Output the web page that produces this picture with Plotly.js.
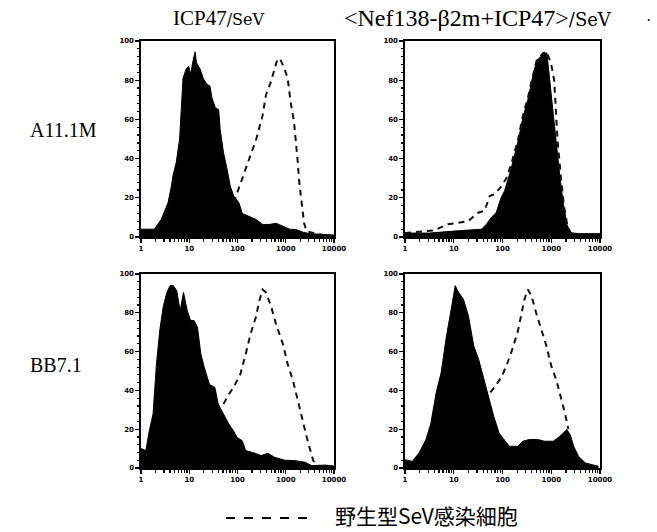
<!DOCTYPE html>
<html>
<head>
<meta charset="utf-8">
<script src="https://cdn.plot.ly/plotly-3.0.1.min.js"></script>
<style>html,body{margin:0;padding:0;background:#fff;}#plot{width:657px;height:532px;}</style>
</head>
<body>
<div id="plot"></div>
<script>
// Column / row labels
const columnTitles = ["ICP47", "<Nef138-β2m+ICP47>"];
const columnSuffix = "/SeV";
const rowTitles = ["A11.1M", "BB7.1"];
const legendLabel = "野生型SeV感染細胞";
const xTickVals = [1, 10, 100, 1000, 10000];
const xTickText = ["1", "10", "100", "1000", "10000"];
const yTickVals = [0, 20, 40, 60, 80, 100];

// Top-left: A11.1M, ICP47/SeV
const xA1_fill = [1, 1.58, 1.9, 2.63, 3.63, 4.27, 4.57, 5.37, 6.31, 7.41, 8.71, 9.77, 10.7, 12.0, 13.2, 14.1, 16.6, 19.5, 22.9, 26.9, 29.5, 34.7, 40.7, 43.7, 51.3, 60.3, 70.8, 83.2, 107, 126, 174, 240, 331, 457, 631, 871, 1202, 1660, 2291, 3162, 6026, 10000];
const yA1_fill = [4, 4, 4, 9, 17.5, 26, 31, 38, 50, 81, 86, 87, 83, 90, 94.5, 89, 86, 81, 78, 77, 71, 66, 65, 55, 43, 35, 26, 21, 17.5, 12, 10.7, 9, 6.4, 6.4, 7, 5.5, 4, 3.8, 2.4, 1.7, 1.2, 1];
const xA1_wt = [83.2, 126, 174, 245, 331, 389, 490, 575, 676, 794, 933, 1096, 1259, 1479, 1622, 1778, 1905, 2138, 2399, 2692, 3715, 6026];
const yA1_wt = [17.5, 30, 40, 50, 62, 72.5, 79, 84.5, 91, 90, 86, 81, 69, 59, 50, 38, 28, 17.5, 7, 3, 2, 1];

// Top-right: A11.1M, <Nef138-β2m+ICP47>/SeV
const xA2_fill = [1, 3.16, 10, 37.2, 46.8, 58.9, 74.1, 93.3, 110, 151, 209, 263, 339, 398, 501, 589, 692, 813, 933, 1096, 1288, 1514, 1778, 2089, 2455, 3715, 10000];
const yA2_fill = [2, 2, 3, 4, 6.5, 10, 12.4, 20, 23.5, 35, 49, 61, 71, 79.6, 90, 91.5, 93.4, 94, 79.6, 66, 49, 30, 16.7, 6.5, 2.2, 1.7, 1.7];
const xA2_wt = [1, 2.88, 3.98, 7.59, 12.0, 19.5, 31.6, 42.7, 55.0, 69.2, 95.5, 120, 151, 209, 263, 339, 398, 501, 589, 692, 813, 933, 1000, 1148, 1202, 1349, 1585, 1820, 2138, 2512];
const yA2_wt = [2, 3, 3.4, 6.5, 7.3, 8, 12.4, 13.3, 21, 21.8, 26, 30, 37, 50, 62, 72, 80, 90, 92, 94, 94.5, 90, 88, 80, 69, 49, 30, 16, 6, 2];

// Bottom-left: BB7.1, ICP47/SeV
const xB1_fill = [1, 1.26, 1.48, 1.78, 2.09, 2.45, 2.88, 3.39, 3.98, 4.68, 5.50, 6.46, 7.59, 9.12, 10.7, 12.6, 14.8, 17.4, 20.4, 26.3, 33.9, 39.8, 51.3, 66.1, 83.2, 97.7, 126, 148, 224, 309, 427, 589, 955, 1549, 2512, 3467, 6607, 10000];
const yB1_fill = [10, 9, 19, 28, 53.6, 71, 83, 90, 94, 94, 91.4, 81, 90.5, 81, 76, 76, 72.5, 58.8, 52, 43, 41.6, 33, 27.8, 22.7, 19, 15.8, 14, 9, 7.7, 6.4, 7.6, 5.5, 4, 3.8, 3, 1.2, 1.5, 1];
const xB1_wt = [51.3, 66.1, 83.2, 115, 148, 186, 240, 282, 331, 389, 501, 631, 871, 1096, 1413, 1778, 2291, 2951, 3715, 4786];
const yB1_wt = [33, 38, 41.6, 48.5, 58.8, 69, 77.7, 86, 92, 90.5, 83, 74, 64, 53.6, 45, 35, 22.7, 12.4, 3.8, 1.2];

// Bottom-right: BB7.1, <Nef138-β2m+ICP47>/SeV
const xB2_fill = [1, 1.41, 1.95, 2.69, 3.39, 4.37, 5.50, 7.08, 9.12, 10.7, 12.6, 15.8, 20.0, 25.7, 32.4, 41.7, 52.5, 66.1, 85.1, 107, 138, 204, 263, 355, 525, 724, 1096, 1514, 2089, 2455, 2884, 3631, 5012, 6918, 9333];
const yB2_fill = [4.3, 3.4, 7.8, 14.7, 23, 39, 49, 68, 83.6, 94, 90.5, 87, 78.4, 63, 56, 45.7, 35, 26.7, 18, 14.7, 11.2, 11.2, 13.8, 14.7, 14.7, 13.8, 13.8, 16.4, 19.8, 17.2, 11.2, 6, 2.6, 1.7, 0.9];
const xB2_wt = [56.2, 70.8, 97.7, 126, 158, 204, 240, 282, 331, 389, 490, 631, 794, 1000, 1259, 1479, 1905, 2239];
const yB2_wt = [39, 42, 47.4, 54, 61, 70, 78.4, 87, 92, 89, 80, 71.5, 63, 52.6, 45.7, 39, 28.4, 20];

const panels = [
  {xf: xA1_fill, yf: yA1_fill, xw: xA1_wt, yw: yA1_wt, ax: ""},
  {xf: xA2_fill, yf: yA2_fill, xw: xA2_wt, yw: yA2_wt, ax: "2"},
  {xf: xB1_fill, yf: yB1_fill, xw: xB1_wt, yw: yB1_wt, ax: "3"},
  {xf: xB2_fill, yf: yB2_fill, xw: xB2_wt, yw: yB2_wt, ax: "4"}
];

const dashStyle = {color: "#111", width: 2, dash: "6px,5px"};
const traces = [];
panels.forEach(p => {
  traces.push({x: p.xf, y: p.yf, type: "scatter", mode: "lines", fill: "tozeroy",
    fillcolor: "#000", line: {color: "#000", width: 1}, xaxis: "x" + p.ax, yaxis: "y" + p.ax, showlegend: false, hoverinfo: "skip"});
  traces.push({x: p.xw, y: p.yw, type: "scatter", mode: "lines",
    line: dashStyle, xaxis: "x" + p.ax, yaxis: "y" + p.ax, showlegend: false, hoverinfo: "skip"});
});

const W = 657, H = 532;
const xDomL = [141 / W, 334 / W], xDomR = [405 / W, 600 / W];
const yDomT = [1 - 237 / H, 1 - 41 / H], yDomB = [1 - 468 / H, 1 - 274 / H];

const minorX = [];
[1, 10, 100, 1000].forEach(d => { for (let k = 2; k <= 9; k++) minorX.push(k * d); });

const tickFont = {family: "DejaVu Sans", size: 7, color: "#000", weight: "bold"};
function xAxis(dom, anchor) {
  return {domain: dom, anchor: anchor, type: "log", range: [0, 4], tickmode: "array",
    tickvals: xTickVals, ticktext: xTickText, ticks: "outside", ticklen: 4, tickwidth: 1.3,
    tickcolor: "#000", showline: true, linecolor: "#000", linewidth: 1.6, mirror: true,
    showgrid: false, zeroline: false, tickfont: tickFont, fixedrange: true,
    minor: {tickmode: "array", tickvals: minorX, ticks: "outside", ticklen: 3, tickcolor: "#000", tickwidth: 1.2, showgrid: false}};
}
function yAxis(dom, anchor) {
  return {domain: dom, anchor: anchor, range: [0, 100], tickmode: "array", tickvals: yTickVals,
    ticks: "outside", ticklen: 4, tickwidth: 1.3, tickcolor: "#000", showline: true,
    linecolor: "#000", linewidth: 1.6, mirror: true, showgrid: false, zeroline: false,
    tickfont: tickFont, fixedrange: true,
    minor: {dtick: 4, ticks: "outside", ticklen: 2.5, tickcolor: "#000", tickwidth: 1.2, showgrid: false}};
}

const esc = s => s.replace(/</g, "&lt;").replace(/>/g, "&gt;");
const suffixHtml = sz => "<span style='font-family:DejaVu Serif, serif;font-size:" + sz + "px'>" + columnSuffix + "</span>";
const serif = "Liberation Serif, Times New Roman, serif";
const layout = {
  width: W, height: H, margin: {l: 0, r: 0, t: 0, b: 0},
  paper_bgcolor: "#fff", plot_bgcolor: "#fff", showlegend: false,
  xaxis: xAxis(xDomL, "y"), yaxis: yAxis(yDomT, "x"),
  xaxis2: xAxis(xDomR, "y2"), yaxis2: yAxis(yDomT, "x2"),
  xaxis3: xAxis(xDomL, "y3"), yaxis3: yAxis(yDomB, "x3"),
  xaxis4: xAxis(xDomR, "y4"), yaxis4: yAxis(yDomB, "x4"),
  annotations: [
    {text: esc(columnTitles[0]) + suffixHtml(16), x: 171 / W, y: 1 - 18 / H, xref: "paper", yref: "paper", showarrow: false, xanchor: "left", yanchor: "middle", font: {family: serif, size: 21, color: "#000"}},
    {text: esc(columnTitles[1]) + suffixHtml(18), x: 342 / W, y: 1 - 18 / H, xref: "paper", yref: "paper", showarrow: false, xanchor: "left", yanchor: "middle", font: {family: serif, size: 24, color: "#000"}},
    {text: "·", x: 648 / W, y: 1 - 20 / H, xref: "paper", yref: "paper", showarrow: false, xanchor: "center", yanchor: "middle", font: {family: serif, size: 16, color: "#000"}},
    {text: rowTitles[0], x: 28 / W, y: 1 - 130 / H, xref: "paper", yref: "paper", showarrow: false, xanchor: "left", yanchor: "middle", font: {family: serif, size: 20, color: "#000"}},
    {text: rowTitles[1], x: 28 / W, y: 1 - 365 / H, xref: "paper", yref: "paper", showarrow: false, xanchor: "left", yanchor: "middle", font: {family: serif, size: 20, color: "#000"}},
    {text: legendLabel, x: 333 / W, y: 1 - 515 / H, xref: "paper", yref: "paper", showarrow: false, xanchor: "left", yanchor: "middle", font: {family: "Noto Sans CJK JP, sans-serif", size: 21, color: "#000"}}
  ],
  shapes: [
    {type: "line", xref: "paper", yref: "paper", x0: 226 / W, x1: 310 / W, y0: 1 - 518 / H, y1: 1 - 518 / H, line: {color: "#000", width: 2, dash: "9px,9px"}}
  ]
};

Plotly.newPlot("plot", traces, layout, {staticPlot: true, displayModeBar: false});
</script>
</body>
</html>
